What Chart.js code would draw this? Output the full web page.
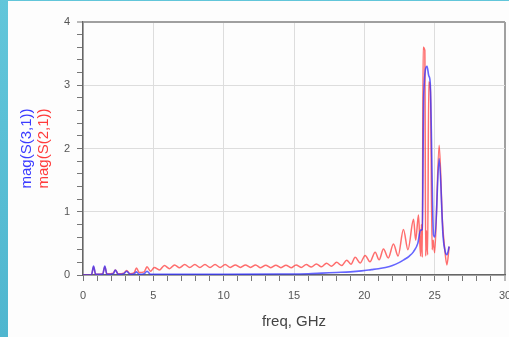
<!DOCTYPE html>
<html>
<head>
<meta charset="utf-8">
<script src="https://cdn.jsdelivr.net/npm/chart.js@4.4.1/dist/chart.umd.min.js"></script>
<style>
  html, body {
    margin: 0;
    padding: 0;
    width: 509px;
    height: 337px;
    overflow: hidden;
    background: linear-gradient(180deg, #62c6da 0%, #4fb6cf 100%);
  }
  .frame {
    position: absolute;
    left: 8px;
    top: 1px;
    width: 501px;
    height: 336px;
    background: #fdfdfd;
  }
</style>
</head>
<body>
<div class="frame">
  <canvas id="chart" width="501" height="336"></canvas>
</div>
<script>
// S21 (red) readings
const freqS21 = [0, 0.6, 0.75, 0.9, 1.4, 1.55, 1.7, 2.15, 2.3, 2.5, 2.9, 3.1, 3.35, 3.65, 3.8, 4.0, 4.35, 4.55, 4.8,
  5.07, 5.43, 5.79, 6.15, 6.51, 6.87, 7.23, 7.59, 7.95, 8.31, 8.67, 9.03, 9.39, 9.75, 10.11, 10.47, 10.83, 11.19,
  11.55, 11.91, 12.27, 12.63, 12.99, 13.35, 13.71, 14.07, 14.43, 14.79, 15.15, 15.51, 15.87, 16.23, 16.59, 16.95,
  17.31, 17.67, 18.03, 18.39, 18.75, 19.05, 19.35, 19.7, 20.06, 20.4, 20.77, 21.05, 21.36, 21.7, 22.07, 22.4,
  22.78, 23.1, 23.5, 23.65, 23.85, 24.0, 24.06, 24.12, 24.18, 24.3, 24.36, 24.42, 24.5, 24.58, 24.7, 24.82, 24.9,
  25.0, 25.32, 25.55, 25.72, 25.87, 26.03];
const magS21 = [0, 0, 0.13, 0.01, 0.02, 0.13, 0.02, 0.03, 0.08, 0.02, 0.03, 0.07, 0.02, 0.04, 0.11, 0.04, 0.05, 0.13, 0.06,
  0.12, 0.08, 0.15, 0.10, 0.16, 0.115, 0.165, 0.12, 0.165, 0.12, 0.165, 0.12, 0.165, 0.12, 0.165, 0.12, 0.16, 0.12,
  0.16, 0.12, 0.16, 0.115, 0.155, 0.115, 0.155, 0.115, 0.155, 0.115, 0.16, 0.12, 0.165, 0.125, 0.175, 0.13,
  0.185, 0.14, 0.2, 0.15, 0.235, 0.17, 0.28, 0.19, 0.31, 0.21, 0.36, 0.24, 0.41, 0.27, 0.49, 0.30,
  0.72, 0.40, 0.88, 0.55, 0.95, 0.30, 0.80, 0.28, 3.60, 3.55, 0.30, 0.70, 0.32, 3.05, 2.90, 0.40, 0.55,
  0.35, 2.05, 0.85, 0.40, 0.16, 0.45];

// S31 (blue) readings
const freqS31 = [0, 0.6, 0.75, 0.9, 1.4, 1.55, 1.7, 2.15, 2.3, 2.5, 2.9, 3.1, 3.35, 3.65, 3.8, 4.0, 4.35, 4.55, 4.8,
  6, 10, 14, 16, 17, 18, 19, 19.8, 20.5, 21, 21.5, 22, 22.5, 22.8, 23.2, 23.5, 23.8, 24.0, 24.12, 24.22, 24.46,
  24.58, 24.68, 24.92, 25.02, 25.32, 25.6, 25.75, 25.87, 26.03];
const magS31 = [0, 0, 0.14, 0.01, 0.01, 0.14, 0.01, 0.02, 0.08, 0.01, 0.02, 0.06, 0.01, 0.02, 0.05, 0.01, 0.02, 0.06, 0.01,
  0.01, 0.01, 0.015, 0.02, 0.03, 0.04, 0.05, 0.065, 0.085, 0.10, 0.12, 0.15, 0.20, 0.24, 0.30, 0.37, 0.50, 0.71, 0.72, 2.84, 3.30,
  3.15, 3.05, 0.63, 0.60, 1.84, 0.60, 0.37, 0.32, 0.45];

const xTickLabels = [0, 5, 10, 15, 20, 25, 30];
const yTickLabels = [0, 1, 2, 3, 4];

const pts = (xs, ys) => xs.map((x, i) => ({ x: x, y: ys[i] }));
const isMajor = (v, list) => list.some(t => Math.abs(t - v) < 1e-6);

const font = "'Liberation Sans', Arial, sans-serif";

new Chart(document.getElementById("chart"), {
  type: "line",
  data: {
    datasets: [
      {
        label: "mag(S(3,1))",
        data: pts(freqS31, magS31),
        borderColor: "rgba(50,50,255,0.75)",
        borderWidth: 1.6,
        pointRadius: 0,
        cubicInterpolationMode: "monotone"
      },
      {
        label: "mag(S(2,1))",
        data: pts(freqS21, magS21),
        borderColor: "rgba(255,60,60,0.75)",
        borderWidth: 1.5,
        pointRadius: 0,
        cubicInterpolationMode: "monotone"
      }
    ]
  },
  options: {
    responsive: false,
    animation: false,
    layout: { padding: { left: 11, top: 21, right: 4, bottom: 0 } },
    plugins: {
      legend: { display: false },
      tooltip: { enabled: false }
    },
    scales: {
      x: {
        type: "linear",
        min: 0,
        max: 30,
        afterFit: s => { s.height = 62; s.paddingLeft = 0; s.paddingRight = 0; },
        ticks: {
          stepSize: 1,
          autoSkip: false,
          maxRotation: 0,
          padding: 8,
          color: "#555",
          font: { family: font, size: 11 },
          callback: v => isMajor(v, xTickLabels) ? String(v) : ""
        },
        grid: {
          color: c => c.tick && isMajor(c.tick.value, xTickLabels)
            ? (c.tick.value === 30 ? "#a0a0a0" : "#dddddd") : "rgba(0,0,0,0)",
          lineWidth: c => c.tick && c.tick.value === 30 ? 2 : 1,
          tickColor: "#777",
          tickWidth: 1,
          tickLength: 6
        },
        border: { color: "#666", width: 1.5 },
        title: {
          display: true,
          text: "freq, GHz",
          color: "#444",
          font: { family: font, size: 15 },
          padding: { top: 0, bottom: 6 }
        }
      },
      y: {
        min: 0,
        max: 4,
        weight: 0,
        afterFit: s => { s.width = 47; s.paddingTop = 0; s.paddingBottom = 0; },
        ticks: {
          stepSize: 0.2,
          autoSkip: false,
          padding: 7,
          color: "#555",
          font: { family: font, size: 11 },
          callback: v => isMajor(v, yTickLabels) ? String(Math.round(v)) : ""
        },
        grid: {
          color: c => c.tick && isMajor(c.tick.value, yTickLabels)
            ? (Math.abs(c.tick.value - 4) < 1e-6 ? "#a0a0a0" : "#dddddd") : "rgba(0,0,0,0)",
          lineWidth: c => c.tick && Math.abs(c.tick.value - 4) < 1e-6 ? 2 : 1,
          tickColor: "#777",
          tickWidth: 1,
          tickLength: 6
        },
        border: { color: "#666", width: 1.5 },
        title: {
          display: true,
          text: "mag(S(2,1))",
          color: "#ff3b3b",
          font: { family: font, size: 15, lineHeight: 1 },
          padding: 0
        }
      },
      yb: {
        position: "left",
        min: 0,
        max: 4,
        weight: 1,
        afterFit: s => { s.width = 17; },
        grid: { display: false, drawTicks: false },
        border: { display: false },
        ticks: { display: false },
        title: {
          display: true,
          text: "mag(S(3,1))",
          color: "#3b3bff",
          font: { family: font, size: 15, lineHeight: 1 },
          padding: 0
        }
      }
    }
  }
});
</script>
</body>
</html>
